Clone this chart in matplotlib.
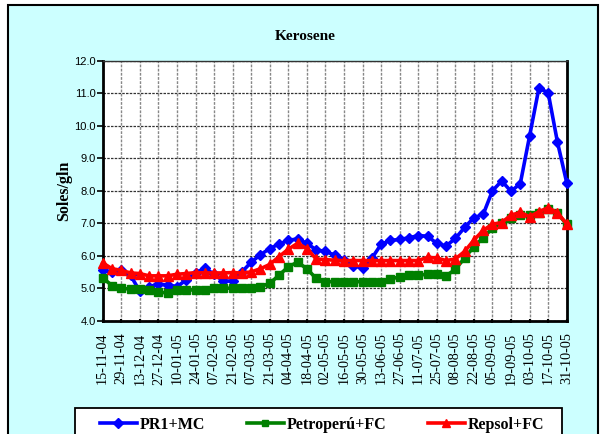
import numpy as np
import matplotlib
matplotlib.use("Agg")
import matplotlib.pyplot as plt
from matplotlib.patches import Rectangle

title = "Kerosene"
ylabel = "Soles/gln"
series_names = ["PR1+MC", "Petroperú+FC", "Repsol+FC"]
tick_labels = ["15-11-04", "29-11-04", "13-12-04", "27-12-04", "10-01-05", "24-01-05",
               "07-02-05", "21-02-05", "07-03-05", "21-03-05", "04-04-05", "18-04-05",
               "02-05-05", "16-05-05", "30-05-05", "13-06-05", "27-06-05", "11-07-05",
               "25-07-05", "08-08-05", "22-08-05", "05-09-05", "19-09-05", "03-10-05",
               "17-10-05", "31-10-05"]

pr1_mc = [5.55, 5.50, 5.55, 5.40, 4.90, 5.05, 5.12, 5.10, 5.05, 5.25,
          5.47, 5.62, 5.43, 5.22, 5.22, 5.50, 5.80, 6.03, 6.22, 6.36,
          6.47, 6.52, 6.38, 6.18, 6.13, 6.02, 5.88, 5.68, 5.63, 5.92,
          6.35, 6.47, 6.50, 6.55, 6.62, 6.60, 6.38, 6.30, 6.53, 6.87,
          7.17, 7.27, 8.00, 8.30, 7.98, 8.22, 9.68, 11.15, 11.02, 9.50,
          8.25]
petroperu_fc = [5.32, 5.08, 5.00, 4.97, 4.97, 4.93, 4.87, 4.86, 4.93, 4.94,
                4.95, 4.96, 5.00, 5.00, 5.00, 5.00, 5.02, 5.05, 5.15, 5.40,
                5.66, 5.80, 5.60, 5.30, 5.20, 5.20, 5.20, 5.20, 5.20, 5.20,
                5.20, 5.28, 5.35, 5.40, 5.40, 5.43, 5.43, 5.38, 5.58, 5.93,
                6.28, 6.55, 6.85, 7.00, 7.15, 7.25, 7.25, 7.32, 7.45, 7.30,
                6.97]
repsol_fc = [5.78, 5.60, 5.55, 5.47, 5.45, 5.38, 5.38, 5.38, 5.43, 5.45,
             5.48, 5.47, 5.47, 5.47, 5.48, 5.47, 5.50, 5.60, 5.73, 5.97,
             6.20, 6.38, 6.22, 5.90, 5.88, 5.86, 5.85, 5.85, 5.85, 5.85,
             5.85, 5.85, 5.85, 5.85, 5.85, 5.95, 5.93, 5.85, 5.90, 6.13,
             6.48, 6.78, 6.97, 7.02, 7.25, 7.33, 7.20, 7.35, 7.48, 7.32,
             6.98]

W, H = 610, 434
fig = plt.figure(figsize=(W / 100, H / 100), dpi=100)
fig.patch.set_facecolor("white")
# chart area background with black border
fig.patches.append(Rectangle((8 / W, -0.05), (598 - 8) / W, 1 - 5 / H + 0.05,
                             transform=fig.transFigure, facecolor="#CCFFFF",
                             edgecolor="black", linewidth=1.5, zorder=-10))
# legend box
fig.patches.append(Rectangle((75 / W, -0.05), (562 - 75) / W, 1 - 408 / H + 0.05,
                             transform=fig.transFigure, facecolor="white",
                             edgecolor="black", linewidth=1.3, zorder=-5))

ax = fig.add_axes([102.7 / W, 1 - 320.7 / H, 464 / W, 260 / H])
ax.set_zorder(2)
ax.set_facecolor("white")
x = np.arange(len(pr1_mc))

ax.plot(x, pr1_mc, color="#0000FF", lw=2.6, marker="D", ms=5.5, zorder=3,
        label=series_names[0], clip_on=False)
ax.plot(x, petroperu_fc, color="#008000", lw=2.6, marker="s", ms=5.5, zorder=4,
        label=series_names[1], clip_on=False)
ax.plot(x, repsol_fc, color="#FF0000", lw=2.6, marker="^", ms=6.5, zorder=5,
        label=series_names[2], clip_on=False)

ax.set_xlim(0, len(x) - 1)
ax.set_ylim(4.0, 12.0)
ax.set_yticks(np.arange(4, 12.01, 1.0))
ax.set_yticklabels([f"{v:.1f}" for v in np.arange(4, 12.01, 1.0)],
                   fontfamily="Liberation Sans", fontsize=8)
ax.set_xticks(np.arange(0, len(x), 2))
ax.set_xticklabels(tick_labels, rotation=90, fontfamily="Liberation Serif",
                   fontsize=10.3)
ax.tick_params(axis="x", length=3, width=1.5, direction="inout", pad=7)
ax.tick_params(axis="y", length=4, width=1.2, direction="out", pad=1)

ax.grid(axis="y", color="#333333", linestyle=(0, (2, 1)), linewidth=0.9)
ax.grid(axis="x", color="#888888", linestyle=(0, (2, 1)), linewidth=1.0)
ax.set_axisbelow(True)
for side in ["left", "bottom", "right"]:
    ax.spines[side].set_linewidth(2)
    ax.spines[side].set_color("black")
ax.spines["top"].set_linewidth(1)
ax.spines["top"].set_color("#333333")

fig.text(305 / W, 1 - 37 / H, title, ha="center", va="center",
         fontfamily="Liberation Serif", fontweight="bold", fontsize=11)
fig.text(64 / W, 1 - 191 / H, ylabel, ha="center", va="center", rotation=90,
         fontfamily="Liberation Serif", fontweight="bold", fontsize=11.5)

leg = fig.legend(loc="upper left", bbox_to_anchor=(92 / W, 1 - 409 / H), ncol=3,
                 prop={"family": "Liberation Serif", "weight": "bold", "size": 11.5},
                 frameon=False, handlelength=2.3, handletextpad=0.2,
                 columnspacing=2.6, borderpad=0.5, borderaxespad=0,
                 markerscale=0.9)

fig.savefig("out.png", dpi=100, facecolor=fig.get_facecolor())
